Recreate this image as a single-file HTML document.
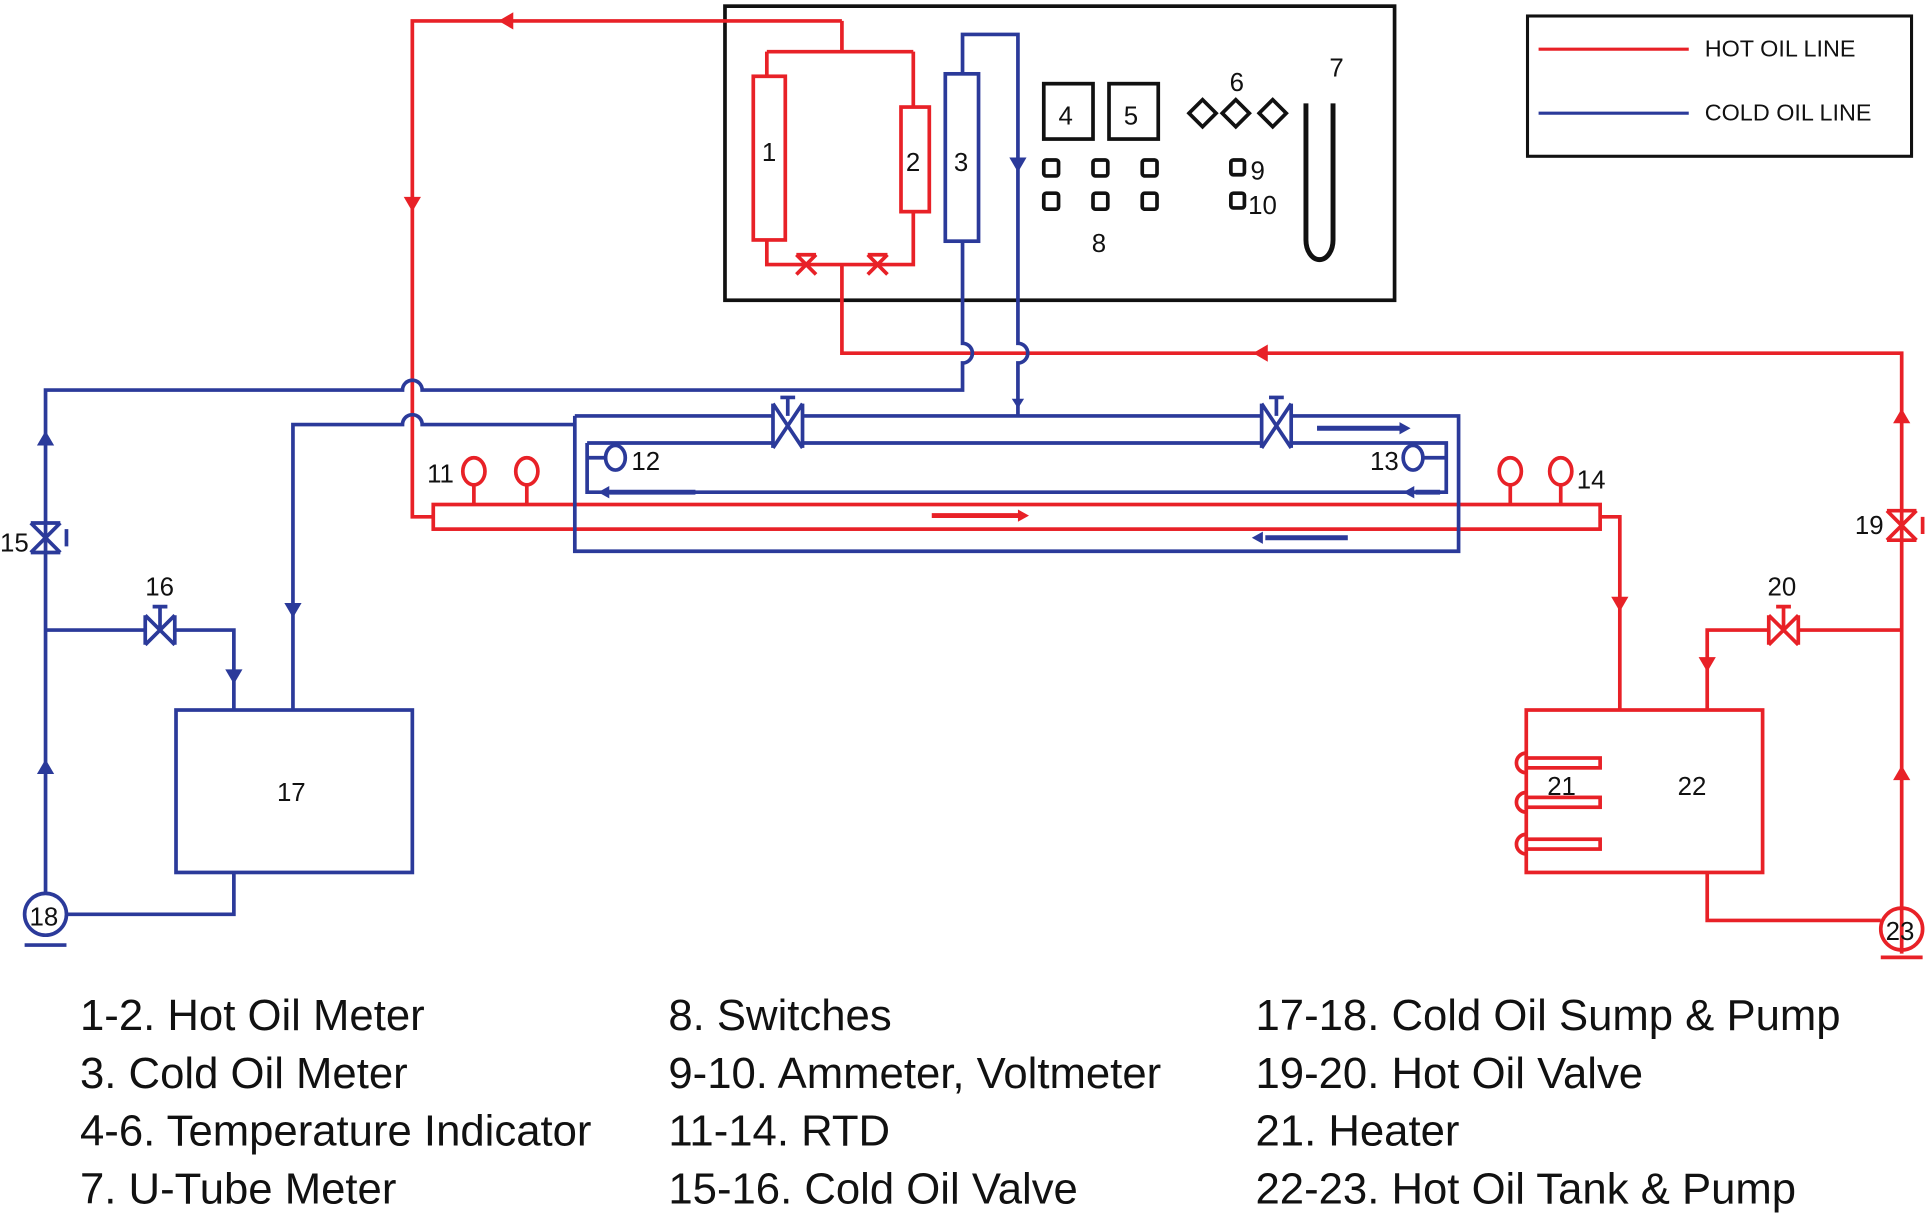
<!DOCTYPE html>
<html><head><meta charset="utf-8"><style>
html,body{margin:0;padding:0;background:#fff;width:1930px;height:1217px;overflow:hidden}
svg{display:block}
text{font-family:"Liberation Sans",sans-serif}
</style></head><body>
<svg width="1930" height="1217" viewBox="0 0 1568 989" preserveAspectRatio="none" xmlns="http://www.w3.org/2000/svg">
<g fill="none" stroke-linejoin="miter">
<rect x="589" y="5" width="544" height="239" stroke="#111" stroke-width="3"/>
<rect x="1241" y="13" width="312" height="114" stroke="#111" stroke-width="2.5"/>
<line x1="1250" y1="40" x2="1372" y2="40" stroke="#e82127" stroke-width="2.5"/>
<line x1="1250" y1="92" x2="1372" y2="92" stroke="#2b3a9a" stroke-width="2.5"/>

<!-- RED -->
<g stroke="#e82127" stroke-width="3">
<path d="M684 17 H335 V420 H352"/>
<path d="M684 17 V42 M623 42 H742 M623 42 V62 M742 42 V87"/>
<rect x="612" y="62" width="26" height="133"/>
<rect x="732" y="87" width="23" height="85"/>
<path d="M623 195 V215 H742 V172"/>
<path d="M684 215 V287 H1545 V775"/>
<path d="M647 207 L663 223 M663 207 L647 223 M647 207 H663 M705 207 L721 223 M721 207 L705 223 M705 207 H721"/>
<rect x="352" y="410" width="948" height="20"/>
<path d="M385 410 V393 M428 410 V393 M1227 410 V393 M1268 410 V393"/>
<ellipse cx="385" cy="383" rx="9" ry="11"/><ellipse cx="428" cy="383" rx="9" ry="11"/>
<ellipse cx="1227" cy="383" rx="9" ry="11"/><ellipse cx="1268" cy="383" rx="9" ry="11"/>
<path d="M1300 420 H1316 V577"/>
<rect x="1240" y="577" width="192" height="132"/>
<path d="M1387 577 V512 H1437 M1461 512 H1545"/>
<path d="M1437 500 L1461 524 M1461 500 L1437 524 M1437 500 V524 M1461 500 V524 M1443 493 H1455 M1449 493 V512"/>
<path d="M1533 415 L1557 439 M1557 415 L1533 439 M1533 415 H1557 M1533 439 H1557 M1562 420 V434"/>
<path d="M1387 709 V748 H1528"/>
<circle cx="1545" cy="755" r="17"/>
<path d="M1528 778 H1562"/>
<rect x="1240" y="616" width="60" height="8"/><rect x="1240" y="648" width="60" height="8"/><rect x="1240" y="682" width="60" height="8"/>
<path d="M1240 612 a8 8 0 0 0 0 16 M1240 644 a8 8 0 0 0 0 16 M1240 678 a8 8 0 0 0 0 16"/>
<path d="M757 419 H828" stroke-width="4"/>
</g>
<g fill="#e82127">
<path d="M405 17 l12 -7 v14z"/>
<path d="M335 172 l-7 -12 h14z"/>
<path d="M1018 287 l12 -7 v14z"/>
<path d="M1545 332 l-7 12 h14z"/>
<path d="M1545 622 l-7 12 h14z"/>
<path d="M1316 497 l-7 -12 h14z"/>
<path d="M1387 546 l-7 -12 h14z"/>
<path d="M836 419 l-9 -5 v10z"/>
</g>

<!-- BLUE -->
<g stroke="#2b3a9a" stroke-width="3">
<rect x="768" y="60" width="27" height="136"/>
<path d="M782 60 V28 H827 V279 a8 8 0 0 1 0 16 V338"/>
<path d="M782 196 V279 a8 8 0 0 1 0 16 V317 H343 a8 8 0 0 0 -16 0 H37 V727"/>
<path d="M37 512 H118 M142 512 H190 V577"/>
<path d="M118 500 L142 524 M142 500 L118 524 M118 500 V524 M142 500 V524 M124 493 H136 M130 493 V512"/>
<path d="M25 425 L49 449 M49 425 L25 449 M25 425 H49 M25 449 H49 M54 430 V444"/>
<rect x="143" y="577" width="192" height="132"/>
<path d="M190 709 V743 H54"/>
<circle cx="37" cy="743" r="17"/>
<path d="M20 768 H54"/>
<path d="M238 577 V345 H327 a8 8 0 0 1 16 0 H467"/>
<path d="M467 338 H628 M652 338 H1025 M1049 338 H1185 V448 H467 V338"/>
<path d="M477 360 H628 M652 360 H1025 M1049 360 H1175 V400 H477 V360"/>
<path d="M628 328 L652 364 M652 328 L628 364 M628 328 V364 M652 328 V364 M634 323 H646 M640 323 V338"/>
<path d="M1025 328 L1049 364 M1049 328 L1025 364 M1025 328 V364 M1049 328 V364 M1031 323 H1043 M1037 323 V338"/>
<ellipse cx="500" cy="372" rx="8" ry="10"/><path d="M477 372 H492"/>
<ellipse cx="1148" cy="372" rx="8" ry="10"/><path d="M1156 372 H1175"/>
<path d="M1070 348 H1140 M495 400 H565 M1028 437 H1095 M1150 400 H1170" stroke-width="4"/>
</g>
<g fill="#2b3a9a">
<path d="M827 140 l-7 -12 h14z"/>
<path d="M827 332 l-5 -8 h10z"/>
<path d="M37 350 l-7 12 h14z"/>
<path d="M37 617 l-7 12 h14z"/>
<path d="M190 556 l-7 -12 h14z"/>
<path d="M238 502 l-7 -12 h14z"/>
<path d="M1146 348 l-9 -5 v10z"/>
<path d="M486 400 l9 -5 v10z"/>
<path d="M1017 437 l9 -5 v10z"/>
<path d="M1140 400 l9 -5 v10z"/>
</g>

<g stroke="#111" stroke-width="3">
<rect x="848" y="68" width="40" height="45"/>
<rect x="901" y="68" width="40" height="45"/>
<path d="M966 92 L977 81 L988 92 L977 103Z M993 92 L1004 81 L1015 92 L1004 103Z M1023 92 L1034 81 L1045 92 L1034 103Z"/>
<rect x="848" y="130" width="12" height="13" rx="2"/><rect x="888" y="130" width="12" height="13" rx="2"/><rect x="928" y="130" width="12" height="13" rx="2"/>
<rect x="848" y="157" width="12" height="13" rx="2"/><rect x="888" y="157" width="12" height="13" rx="2"/><rect x="928" y="157" width="12" height="13" rx="2"/>
<rect x="1000" y="130" width="11" height="12" rx="2"/><rect x="1000" y="157" width="11" height="12" rx="2"/>
<path d="M1061 84 V195 a11 16 0 0 0 22 0 V84" stroke-width="4"/>
</g>
</g>

<g fill="#111" font-size="21">
<text x="619" y="131">1</text><text x="736" y="139">2</text><text x="775" y="139">3</text>
<text x="860" y="101">4</text><text x="913" y="101">5</text>
<text x="999" y="74">6</text><text x="1080" y="62">7</text><text x="887" y="205">8</text>
<text x="1016" y="146">9</text><text x="1014" y="174">10</text>
<text x="347" y="392">11</text><text x="513" y="382">12</text><text x="1113" y="382">13</text><text x="1281" y="397">14</text>
<text x="0" y="448">15</text><text x="118" y="484">16</text><text x="225" y="651">17</text>
<text x="24" y="752">18</text><text x="1507" y="434">19</text><text x="1436" y="484">20</text>
<text x="1257" y="646">21</text><text x="1363" y="646">22</text><text x="1532" y="764">23</text>
</g>
<g fill="#111" font-size="19">
<text x="1385" y="46">HOT OIL LINE</text>
<text x="1385" y="98">COLD OIL LINE</text>
</g>
<g fill="#111" font-size="35.5">
<text x="65" y="837">1-2. Hot Oil Meter</text>
<text x="65" y="884">3. Cold Oil Meter</text>
<text x="65" y="931">4-6. Temperature Indicator</text>
<text x="65" y="978">7. U-Tube Meter</text>
<text x="543" y="837">8. Switches</text>
<text x="543" y="884">9-10. Ammeter, Voltmeter</text>
<text x="543" y="931">11-14. RTD</text>
<text x="543" y="978">15-16. Cold Oil Valve</text>
<text x="1020" y="837">17-18. Cold Oil Sump &amp; Pump</text>
<text x="1020" y="884">19-20. Hot Oil Valve</text>
<text x="1020" y="931">21. Heater</text>
<text x="1020" y="978">22-23. Hot Oil Tank &amp; Pump</text>
</g>
</svg>
</body></html>
